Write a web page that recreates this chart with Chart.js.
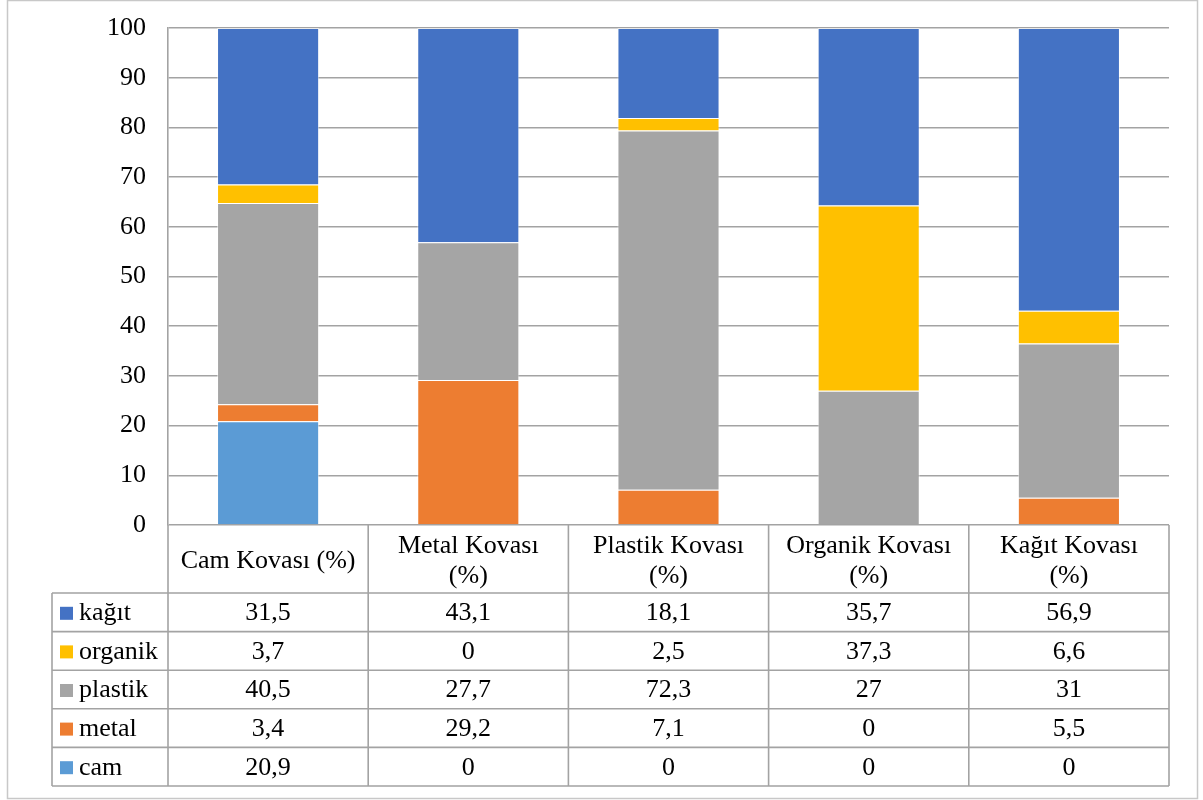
<!DOCTYPE html>
<html>
<head>
<meta charset="utf-8">
<script src="https://cdn.jsdelivr.net/npm/chart.js@4/dist/chart.umd.min.js"></script>
<style>
  html, body { margin: 0; padding: 0; background: #ffffff; }
  #wrap { width: 1203px; height: 800px; position: relative; }
</style>
</head>
<body>
<div id="wrap"><canvas id="c" width="1203" height="800"></canvas></div>
<script>
// Bin categories (header lines for the data table)
const categories = [
  ['Cam Kovası (%)'],
  ['Metal Kovası', '(%)'],
  ['Plastik Kovası', '(%)'],
  ['Organik Kovası', '(%)'],
  ['Kağıt Kovası', '(%)']
];

// Waste composition per bin, stacked bottom to top
const seriesNames = ['cam', 'metal', 'plastik', 'organik', 'kağıt'];
const cam     = [20.9, 0,    0,    0,    0];
const metal   = [3.4,  29.2, 7.1,  0,    5.5];
const plastik = [40.5, 27.7, 72.3, 27,   31];
const organik = [3.7,  0,    2.5,  37.3, 6.6];
const kagit   = [31.5, 43.1, 18.1, 35.7, 56.9];
const seriesValues = [cam, metal, plastik, organik, kagit];
const seriesColors = ['#5B9BD5', '#ED7D31', '#A5A5A5', '#FFC000', '#4472C4'];

const yTicks = [0, 10, 20, 30, 40, 50, 60, 70, 80, 90, 100];

const FONT = "'Liberation Serif', 'Times New Roman', serif";
const FONT_SIZE = 26;
const LINE_COLOR = '#a3a3a3';
const HEADER_H = 68;
const ROW_H = 38.6;
const LEGEND_LEFT = 52;

function fmt(v) { return String(v).replace('.', ','); }

// Draws the outer frame around the whole chart
const framePlugin = {
  id: 'frame',
  beforeDraw(chart) {
    const ctx = chart.ctx;
    ctx.save();
    ctx.strokeStyle = '#c8c8c8';
    ctx.lineWidth = 1.5;
    ctx.strokeRect(7.5, 0.5, 1190, 798);
    ctx.restore();
  }
};

// Draws the data table under the plot: header, legend keys and values
const tablePlugin = {
  id: 'dataTable',
  afterDraw(chart) {
    const { ctx, chartArea: ca, scales: { x } } = chart;
    const n = categories.length;
    const colW = (ca.right - ca.left) / n;
    const headerBottom = ca.bottom + HEADER_H;
    const order = seriesNames.map((_, i) => i).reverse();
    const tableBottom = headerBottom + order.length * ROW_H;

    ctx.save();
    ctx.strokeStyle = LINE_COLOR;
    ctx.lineWidth = 1.6;
    ctx.beginPath();
    for (let i = 0; i <= n; i++) {
      const xx = ca.left + i * colW;
      ctx.moveTo(xx, ca.bottom);
      ctx.lineTo(xx, tableBottom);
    }
    ctx.moveTo(LEGEND_LEFT, headerBottom);
    ctx.lineTo(LEGEND_LEFT, tableBottom);
    for (let r = 0; r <= order.length; r++) {
      const yy = headerBottom + r * ROW_H;
      ctx.moveTo(LEGEND_LEFT, yy);
      ctx.lineTo(ca.right, yy);
    }
    ctx.stroke();

    ctx.fillStyle = '#000000';
    ctx.font = FONT_SIZE + 'px ' + FONT;
    ctx.textAlign = 'center';
    ctx.textBaseline = 'middle';

    // header cells
    const headMid = ca.bottom + HEADER_H / 2 + 2;
    const lineH = 30;
    categories.forEach((lines, i) => {
      const cx = x.getPixelForValue(i);
      const top = headMid - (lines.length - 1) * lineH / 2;
      lines.forEach((t, k) => ctx.fillText(t, cx, top + k * lineH));
    });

    // body rows
    order.forEach((s, r) => {
      const cy = headerBottom + r * ROW_H + ROW_H / 2 + 1;
      ctx.fillStyle = seriesColors[s];
      ctx.fillRect(60, cy - 6.5, 13, 13);
      ctx.fillStyle = '#000000';
      ctx.textAlign = 'left';
      ctx.fillText(seriesNames[s], 79, cy);
      ctx.textAlign = 'center';
      seriesValues[s].forEach((v, i) => {
        ctx.fillText(fmt(v), x.getPixelForValue(i), cy);
      });
    });
    ctx.restore();
  }
};

new Chart(document.getElementById('c'), {
  type: 'bar',
  data: {
    labels: categories,
    datasets: seriesNames.map((name, i) => ({
      label: name,
      data: seriesValues[i],
      backgroundColor: seriesColors[i],
      borderColor: 'rgba(255,255,255,0.55)',
      borderWidth: 1,
      categoryPercentage: 1,
      barPercentage: 0.51
    }))
  },
  options: {
    responsive: false,
    animation: false,
    layout: { padding: { left: 0, top: 28, right: 34, bottom: 275 } },
    plugins: { legend: { display: false }, tooltip: { enabled: false } },
    scales: {
      x: { stacked: true, display: false },
      y: {
        stacked: true,
        min: 0,
        max: 100,
        afterFit(scale) {
          scale.width = 168;
          scale.paddingTop = 0;
          scale.paddingBottom = 0;
        },
        afterBuildTicks(scale) { scale.ticks = yTicks.map(v => ({ value: v })); },
        grid: { color: LINE_COLOR, lineWidth: 1.6, drawTicks: false },
        border: { display: true, color: LINE_COLOR, width: 1.6 },
        ticks: {
          padding: 22,
          color: '#000000',
          font: { family: FONT, size: FONT_SIZE }
        }
      }
    }
  },
  plugins: [framePlugin, tablePlugin]
});
</script>
</body>
</html>
